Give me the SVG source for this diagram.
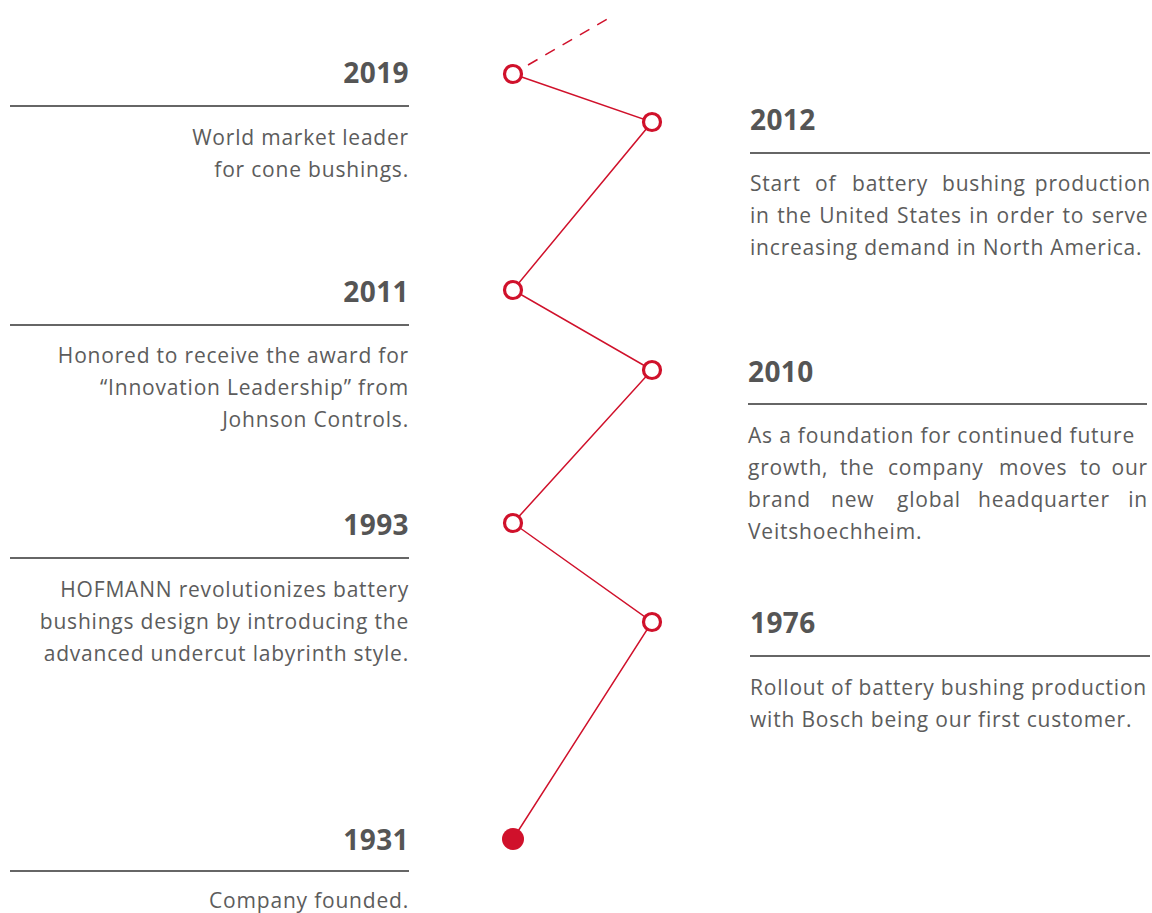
<svg xmlns="http://www.w3.org/2000/svg" width="1152" height="913" viewBox="0 0 1152 913">
<style>
.yr{font-family:"Open Sans","Noto Sans",sans-serif;font-weight:700;font-size:28px;letter-spacing:0.4px;fill:#555}
.bd{font-family:"Open Sans","Noto Sans",sans-serif;font-size:21px;letter-spacing:0.8px;fill:#5c5c5c}
.l{text-anchor:end}
.e{text-anchor:end}
.rule{stroke:#666;stroke-width:2}
.con{stroke:#d0112b;stroke-width:1.5;fill:none}
.dot{fill:#fff;stroke:#d0112b;stroke-width:3.2}
</style>
<rect width="1152" height="913" fill="#fff"/>
<g id="connectors">
<line class="con" x1="528" y1="65" x2="609" y2="18" stroke-dasharray="11 9"/>
<polyline class="con" points="513,74 652,122 513,290 652,370 513,523 652,622 513,839"/>
</g>
<g id="n2019">
<circle class="dot" cx="513" cy="74" r="8.5"/>
<text class="yr l" x="409" y="83">2019</text>
<line class="rule" x1="10" y1="106" x2="409" y2="106"/>
<text class="bd l" x="409" y="145">World market leader</text>
<text class="bd l" x="409" y="177">for cone bushings.</text>
</g>
<g id="n2012">
<circle class="dot" cx="652" cy="122" r="8.5"/>
<text class="yr" x="750" y="130">2012</text>
<line class="rule" x1="750" y1="153" x2="1150" y2="153"/>
<text class="bd" y="191"><tspan x="750">Start</tspan><tspan x="815">of</tspan><tspan x="852">battery</tspan><tspan x="942">bushing</tspan><tspan class="e" x="1151">production</tspan></text>
<text class="bd" x="750" y="223" word-spacing="1.2">in the United States in order to serve</text>
<text class="bd" x="750" y="255">increasing demand in North America.</text>
</g>
<g id="n2011">
<circle class="dot" cx="513" cy="290" r="8.5"/>
<text class="yr l" x="409" y="302">2011</text>
<line class="rule" x1="10" y1="325" x2="409" y2="325"/>
<text class="bd l" x="409" y="363">Honored to receive the award for</text>
<text class="bd l" x="409" y="395">“Innovation Leadership” from</text>
<text class="bd l" x="409" y="427">Johnson Controls.</text>
</g>
<g id="n2010">
<circle class="dot" cx="652" cy="370" r="8.5"/>
<text class="yr" x="748" y="382">2010</text>
<line class="rule" x1="748" y1="404" x2="1147" y2="404"/>
<text class="bd" x="748" y="443">As a foundation for continued future</text>
<text class="bd" y="475"><tspan x="748">growth,</tspan><tspan x="840">the</tspan><tspan x="888">company</tspan><tspan x="999">moves</tspan><tspan x="1080">to</tspan><tspan class="e" x="1148">our</tspan></text>
<text class="bd" y="507"><tspan x="748">brand</tspan><tspan x="831">new</tspan><tspan x="897">global</tspan><tspan x="978">headquarter</tspan><tspan class="e" x="1148">in</tspan></text>
<text class="bd" x="748" y="539">Veitshoechheim.</text>
</g>
<g id="n1993">
<circle class="dot" cx="513" cy="523" r="8.5"/>
<text class="yr l" x="409" y="535">1993</text>
<line class="rule" x1="10" y1="558" x2="409" y2="558"/>
<text class="bd l" x="409" y="597">HOFMANN revolutionizes battery</text>
<text class="bd l" x="409" y="629">bushings design by introducing the</text>
<text class="bd l" x="409" y="661">advanced undercut labyrinth style.</text>
</g>
<g id="n1976">
<circle class="dot" cx="652" cy="622" r="8.5"/>
<text class="yr" x="750" y="633">1976</text>
<line class="rule" x1="750" y1="656" x2="1150" y2="656"/>
<text class="bd" x="750" y="695">Rollout of battery bushing production</text>
<text class="bd" x="750" y="727">with Bosch being our first customer.</text>
</g>
<g id="n1931">
<circle cx="513" cy="839" r="11" fill="#d0112b"/>
<text class="yr l" x="409" y="850">1931</text>
<line class="rule" x1="10" y1="871" x2="409" y2="871"/>
<text class="bd l" x="409" y="908">Company founded.</text>
</g>
</svg>
